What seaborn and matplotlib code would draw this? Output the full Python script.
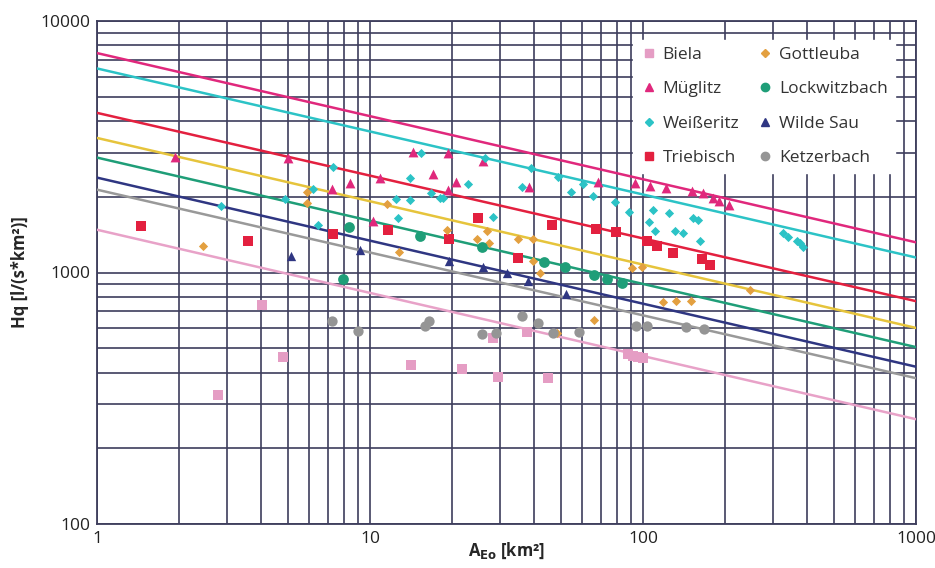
import numpy as np
import pandas as pd
import matplotlib
matplotlib.use("Agg")
import matplotlib.pyplot as plt
import seaborn as sns
from matplotlib.lines import Line2D

# ---------------- data ----------------
series_names = ["Biela", "Müglitz", "Weißeritz", "Triebisch",
                "Gottleuba", "Lockwitzbach", "Wilde Sau", "Ketzerbach"]

biela_x = [2.77, 4.02, 4.80, 14.1, 21.7, 28.2, 29.4, 37.6, 44.9, 88.1, 91.9, 95.9, 100]
biela_y = [327, 746, 462, 430, 415, 551, 385, 582, 382, 475, 467, 463, 459]

mueglitz_x = [1.93, 5.01, 7.26, 8.45, 10.26, 10.9, 14.4, 17.0, 19.3, 19.3, 20.7, 25.9, 38.2,
              68.4, 93.5, 106, 121, 151, 166, 180, 190, 207]
mueglitz_y = [2873, 2847, 2143, 2264, 1596, 2370, 3010, 2457, 2980, 2122, 2283, 2770, 2183,
              2283, 2264, 2200, 2161, 2104, 2063, 1971, 1917, 1849]

weisseritz_x = [2.85, 4.88, 6.18, 6.45, 7.32, 12.4, 14.0, 14.0, 12.7, 15.4, 16.7, 18.0, 18.5,
                22.9, 26.4, 28.2, 36.0, 38.9, 48.9, 54.5, 60.3, 65.6, 78.9, 88.9, 109, 105,
                125, 111, 131, 140, 152, 159, 162, 326, 340, 367, 376, 385]
weisseritz_y = [1832, 1953, 2143, 1539, 2620, 1953, 2370, 1935, 1641, 2980, 2063, 1971, 1971,
                2242, 2847, 1657, 2183, 2598, 2390, 2083, 2242, 2010, 1900, 1734, 1768, 1582,
                1718, 1457, 1457, 1430, 1641, 1611, 1340, 1430, 1378, 1330, 1305, 1258]

triebisch_x = [1.45, 3.57, 7.32, 11.6, 19.5, 24.9, 34.8, 46.4, 67.3, 79.6, 103, 113, 129, 164, 176]
triebisch_y = [1525, 1340, 1417, 1471, 1365, 1641, 1138, 1539, 1496, 1443, 1330, 1270, 1191, 1127, 1067]

gottleuba_x = [2.44, 5.88, 5.88, 11.5, 12.8, 19.2, 26.8, 24.6, 27.3, 34.8, 39.5, 39.5, 42.0,
               91.2, 99.1, 66.2, 118, 132, 150, 247, 48.4]
gottleuba_y = [1270, 2083, 1883, 1866, 1202, 1471, 1457, 1365, 1305, 1365, 1353, 1116, 991,
               1038, 1047, 650, 766, 773, 773, 855, 577]

lockwitz_x = [8.38, 7.96, 15.2, 25.7, 43.4, 51.8, 66.2, 73.8, 83.8]
lockwitz_y = [1511, 946, 1391, 1258, 1096, 1047, 973, 946, 912]

wildesau_x = [5.14, 9.19, 19.5, 25.9, 31.8, 37.9, 52.2]
wildesau_y = [1158, 1224, 1106, 1047, 1000, 929, 824]

ketzer_x = [7.26, 9.04, 15.9, 16.4, 25.7, 28.9, 36.0, 41.2, 46.8, 58.3, 94.3, 103, 144, 167]
ketzer_y = [644, 587, 615, 644, 571, 577, 674, 632, 577, 582, 615, 615, 609, 598]

# envelope lines: value at A=1 and A=1000
line_x = [1, 1000]
line_start = [1479, 7456, 6477, 4313, 3428, 2864, 2384, 2135]
line_end = [261, 1318, 1147, 769, 602, 505, 422, 380]

x_ticks = [1, 10, 100, 1000]
y_ticks = [100, 1000, 10000]

# ---------------- styling ----------------
point_colors = {"Biela": "#e59dc4", "Müglitz": "#e0287c", "Weißeritz": "#2cc3c6",
                "Triebisch": "#e3203f", "Gottleuba": "#e3a040", "Lockwitzbach": "#1f9e78",
                "Wilde Sau": "#2f3682", "Ketzerbach": "#959595"}
line_colors = {"Biela": "#e8a2c8", "Müglitz": "#e0287c", "Weißeritz": "#2cc3c6",
               "Triebisch": "#e3203f", "Gottleuba": "#e6c43c", "Lockwitzbach": "#1f9e78",
               "Wilde Sau": "#2f3682", "Ketzerbach": "#999999"}
markers = {"Biela": "s", "Müglitz": "^", "Weißeritz": "D", "Triebisch": "s",
           "Gottleuba": "D", "Lockwitzbach": "o", "Wilde Sau": "^", "Ketzerbach": "o"}
sizes = {"Biela": 45, "Müglitz": 50, "Weißeritz": 22, "Triebisch": 55,
         "Gottleuba": 22, "Lockwitzbach": 60, "Wilde Sau": 45, "Ketzerbach": 55}

xs = [biela_x, mueglitz_x, weisseritz_x, triebisch_x, gottleuba_x, lockwitz_x, wildesau_x, ketzer_x]
ys = [biela_y, mueglitz_y, weisseritz_y, triebisch_y, gottleuba_y, lockwitz_y, wildesau_y, ketzer_y]

pts = pd.concat([pd.DataFrame({"A": x, "Hq": y, "Gebiet": n})
                 for n, x, y in zip(series_names, xs, ys)], ignore_index=True)
lines = pd.concat([pd.DataFrame({"A": line_x, "Hq": [s, e], "Gebiet": n})
                   for n, s, e in zip(series_names, line_start, line_end)], ignore_index=True)

sns.set_theme(style="white")
plt.rcParams["font.family"] = ["Open Sans", "DejaVu Sans"]

fig = plt.figure(figsize=(9.35, 5.68), dpi=100)
ax = fig.add_axes([97 / 935, 44 / 568, 819 / 935, 503 / 568])
ax.set_xscale("log")
ax.set_yscale("log")

grid_col = "#3d3d5c"
ax.grid(True, which="both", color=grid_col, linewidth=1.2, zorder=0)
ax.set_axisbelow(True)

# lines
draw_order_lines = ["Biela", "Ketzerbach", "Wilde Sau", "Lockwitzbach", "Gottleuba",
                    "Triebisch", "Weißeritz", "Müglitz"]
for n in draw_order_lines:
    sns.lineplot(data=lines[lines.Gebiet == n], x="A", y="Hq", color=line_colors[n],
                 linewidth=1.8, ax=ax, zorder=3, legend=False)

# points
for n in series_names:
    sns.scatterplot(data=pts[pts.Gebiet == n], x="A", y="Hq", color=point_colors[n],
                    marker=markers[n], s=sizes[n], linewidth=0, ax=ax, zorder=4,
                    legend=False)

ax.set_xlim(1, 1000)
ax.set_ylim(100, 10000)
ax.set_xticks(x_ticks)
ax.set_xticklabels([str(t) for t in x_ticks])
ax.set_yticks(y_ticks)
ax.set_yticklabels([str(t) for t in y_ticks])
ax.xaxis.set_minor_formatter(matplotlib.ticker.NullFormatter())
ax.yaxis.set_minor_formatter(matplotlib.ticker.NullFormatter())
ax.tick_params(axis="both", which="both", length=0, labelsize=12.5, colors="#222222", pad=5)

for sp in ax.spines.values():
    sp.set_color(grid_col)
    sp.set_linewidth(1.3)

ax.set_xlabel(r"A$_{\mathbf{Eo}}$ [km²]", fontsize=12, fontweight="bold")
ax.xaxis.set_label_coords(0.5, -0.034)
ax.set_ylabel("Hq [l/(s*km²)]", fontsize=12, fontweight="bold", labelpad=8)

handles = [Line2D([], [], linestyle="none", marker=markers[n], color=point_colors[n],
                  markersize=6 if markers[n] != "D" else 4.5, label=n) for n in series_names]
leg = ax.legend(handles=handles, ncol=2, loc="upper right", bbox_to_anchor=(0.985, 0.98),
                frameon=True, fontsize=12.5, handletextpad=0.3, columnspacing=1.0,
                labelspacing=1.05, borderpad=0.4, handlelength=1.0)
leg.get_frame().set_facecolor("white")
leg.get_frame().set_edgecolor("white")
leg.get_frame().set_alpha(1)
leg.set_zorder(5)
for t in leg.get_texts():
    t.set_color("#333333")

fig.savefig("out.png", dpi=100)
